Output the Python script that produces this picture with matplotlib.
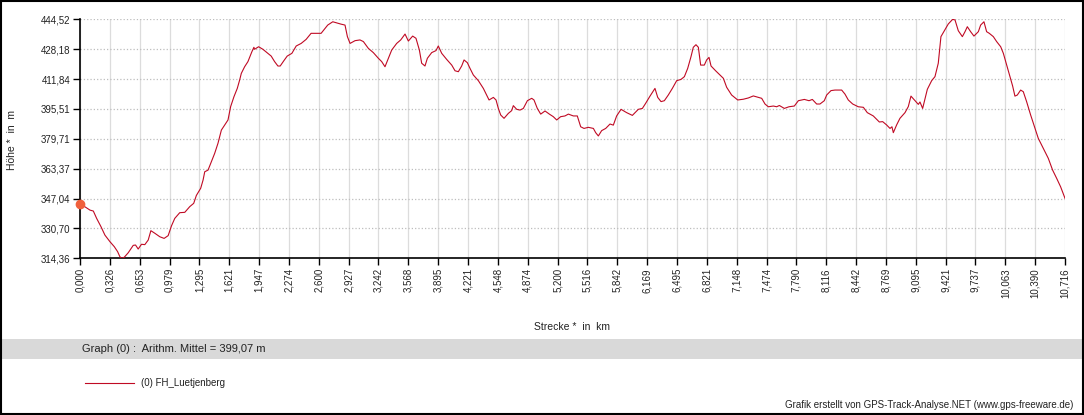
import numpy as np
import matplotlib
matplotlib.use("Agg")
from matplotlib import pyplot as plt
from matplotlib.patches import Rectangle
from matplotlib.lines import Line2D

plt.rcParams['font.family'] = ['Liberation Sans', 'DejaVu Sans']

dist_km = [
    0.000, 0.054, 0.109, 0.145, 0.181, 0.228, 0.271, 0.326, 0.373, 0.409,
    0.434, 0.452, 0.481, 0.525, 0.579, 0.604, 0.633, 0.669, 0.705, 0.742,
    0.771, 0.814, 0.868, 0.915, 0.959, 0.995, 1.031, 1.085, 1.140, 1.194,
    1.237, 1.266, 1.313, 1.339, 1.357, 1.393, 1.429, 1.465, 1.501, 1.538,
    1.574, 1.610, 1.639, 1.675, 1.711, 1.737, 1.755, 1.791, 1.827, 1.870,
    1.892, 1.899, 1.943, 1.990, 2.044, 2.080, 2.117, 2.153, 2.178, 2.218,
    2.254, 2.305, 2.352, 2.406, 2.460, 2.514, 2.623, 2.695, 2.750, 2.790,
    2.840, 2.883, 2.909, 2.938, 2.992, 3.046, 3.083, 3.137, 3.191, 3.246,
    3.282, 3.318, 3.355, 3.391, 3.445, 3.489, 3.536, 3.572, 3.619, 3.655,
    3.692, 3.717, 3.753, 3.779, 3.826, 3.873, 3.898, 3.935, 3.989, 4.044,
    4.080, 4.116, 4.152, 4.178, 4.214, 4.243, 4.279, 4.334, 4.388, 4.424,
    4.450, 4.497, 4.526, 4.551, 4.577, 4.613, 4.660, 4.696, 4.714, 4.751,
    4.787, 4.823, 4.867, 4.914, 4.939, 4.975, 5.012, 5.059, 5.106, 5.149,
    5.186, 5.229, 5.276, 5.313, 5.367, 5.410, 5.447, 5.483, 5.530, 5.585,
    5.610, 5.639, 5.675, 5.719, 5.766, 5.802, 5.838, 5.886, 5.947, 6.009,
    6.038, 6.074, 6.118, 6.154, 6.201, 6.255, 6.285, 6.321, 6.357, 6.400,
    6.444, 6.491, 6.538, 6.575, 6.611, 6.647, 6.672, 6.701, 6.727, 6.752,
    6.792, 6.817, 6.843, 6.865, 6.915, 6.962, 6.999, 7.035, 7.089, 7.155,
    7.216, 7.271, 7.325, 7.380, 7.416, 7.452, 7.488, 7.543, 7.579, 7.608,
    7.662, 7.713, 7.771, 7.815, 7.880, 7.931, 7.967, 8.014, 8.050, 8.097,
    8.123, 8.170, 8.213, 8.286, 8.322, 8.358, 8.406, 8.467, 8.522, 8.565,
    8.630, 8.696, 8.732, 8.775, 8.812, 8.833, 8.848, 8.884, 8.920, 8.975,
    9.011, 9.040, 9.084, 9.120, 9.138, 9.167, 9.218, 9.265, 9.301, 9.337,
    9.366, 9.403, 9.446, 9.493, 9.519, 9.555, 9.599, 9.628, 9.653, 9.689,
    9.725, 9.773, 9.798, 9.834, 9.863, 9.892, 9.936, 9.972, 10.016, 10.045,
    10.081, 10.117, 10.146, 10.171, 10.197, 10.233, 10.262, 10.298, 10.342, 10.389,
    10.425, 10.480, 10.534, 10.581, 10.625, 10.668, 10.697, 10.716,
]
elev_m = [
    344.0, 342.4, 340.6, 340.1, 336.1, 331.6, 327.0, 323.4, 320.7, 318.0,
    315.2, 314.4, 314.9, 317.4, 321.4, 321.6, 319.4, 322.0, 321.8, 324.3,
    329.4, 328.0, 326.1, 325.2, 326.7, 332.0, 336.1, 339.2, 339.4, 342.5,
    344.3, 348.6, 352.5, 357.0, 361.5, 362.4, 367.0, 371.5, 377.0, 384.2,
    386.9, 389.7, 397.0, 402.4, 406.9, 411.5, 415.1, 418.7, 421.5, 426.9,
    429.3, 428.2, 429.6, 428.2, 426.0, 424.5, 421.5, 419.1, 419.1, 422.0,
    424.5, 426.0, 430.0, 431.4, 433.6, 436.9, 436.9, 441.4, 443.2, 442.6,
    441.9, 441.4, 435.1, 431.4, 432.9, 433.3, 432.4, 428.7, 426.4, 423.3,
    421.5, 418.7, 423.3, 427.8, 431.4, 433.3, 436.5, 432.7, 435.4, 434.2,
    427.8, 420.6, 419.1, 423.3, 426.4, 427.5, 430.0, 426.0, 422.7, 419.6,
    416.5, 416.0, 419.1, 422.4, 420.9, 417.8, 414.2, 411.1, 406.9, 403.3,
    400.6, 402.0, 400.6, 396.0, 392.4, 390.6, 393.3, 394.8, 397.5, 395.5,
    395.1, 396.0, 400.2, 401.5, 400.6, 396.0, 392.9, 394.6, 392.9, 391.5,
    389.7, 391.5, 391.9, 392.9, 391.9, 391.9, 386.0, 385.1, 385.7, 385.1,
    382.8, 381.0, 383.9, 385.1, 387.5, 386.9, 391.9, 395.5, 393.7, 392.2,
    393.7, 395.5, 396.0, 398.8, 402.7, 406.9, 402.0, 399.7, 400.2, 403.3,
    406.9, 411.1, 411.8, 413.3, 417.8, 424.2, 429.3, 430.7, 429.3, 419.6,
    419.6, 422.4, 423.8, 419.1, 416.5, 414.2, 412.4, 407.5, 403.3, 400.6,
    401.0, 401.7, 402.8, 402.0, 401.5, 398.4, 396.9, 397.3, 396.9, 397.6,
    396.0, 396.9, 397.3, 400.2, 400.9, 400.2, 400.9, 398.4, 398.4, 400.2,
    403.3, 405.7, 406.0, 406.0, 403.8, 400.6, 398.4, 396.9, 396.6, 393.7,
    391.9, 388.6, 388.8, 387.0, 385.1, 386.0, 382.8, 387.0, 390.6, 393.7,
    397.0, 402.7, 400.2, 398.2, 399.5, 396.0, 406.4, 411.1, 413.3, 420.6,
    435.1, 438.3, 442.0, 444.5, 444.2, 438.3, 435.1, 437.8, 440.5, 437.8,
    435.4, 437.8, 441.4, 443.2, 437.8, 436.9, 435.1, 432.4, 429.6, 426.0,
    419.6, 413.3, 408.2, 402.7, 403.3, 406.0, 405.1, 399.7, 392.4, 385.1,
    379.7, 374.2, 368.8, 362.4, 357.9, 353.3, 349.4, 347.0,
]

x_tick_labels = [
    "0,000", "0,326", "0,653", "0,979", "1,295", "1,621", "1,947", "2,274",
    "2,600", "2,927", "3,242", "3,568", "3,895", "4,221", "4,548", "4,874",
    "5,200", "5,516", "5,842", "6,169", "6,495", "6,821", "7,148", "7,474",
    "7,790", "8,116", "8,442", "8,769", "9,095", "9,421", "9,737", "10,063",
    "10,390", "10,716",
]
y_tick_labels = ["314,36", "330,70", "347,04", "363,37", "379,71",
                 "395,51", "411,84", "428,18", "444,52"]

track_name = "(0) FH_Luetjenberg"
mean_text = "Graph (0) :  Arithm. Mittel = 399,07 m"

x_min, x_max = 0.0, 10.716
y_min, y_max = 314.36, 444.52
line_color = '#c00a24'
text_color = '#222222'

fig = plt.figure(figsize=(10.84, 4.15), dpi=100)
ax = fig.add_axes([0.0738, 0.3776, 0.9087, 0.5758])

ax.plot(dist_km, elev_m, color=line_color, lw=0.8, zorder=3)
# Startpunkt
ax.plot(dist_km[0], elev_m[0], 'o', color='#f0603c', ms=6, clip_on=False, zorder=4)

ax.set_xlim(x_min, x_max)
ax.set_ylim(y_min, y_max)
ax.set_xticks(np.linspace(x_min, x_max, len(x_tick_labels)))
ax.set_xticklabels(x_tick_labels, rotation=90, fontsize=7, color=text_color)
ax.set_yticks(np.linspace(y_min, y_max, len(y_tick_labels)))
ax.set_yticklabels(y_tick_labels, fontsize=7, color=text_color)
ax.tick_params(direction='out', length=5, width=1, color='black', pad=2)

ax.grid(axis='y', color='#bdbdbd', linestyle=':', lw=0.9)
ax.grid(axis='x', color='#dcdcdc', linestyle='-', lw=0.9)
ax.set_axisbelow(True)
for side in ['top', 'right']:
    ax.spines[side].set_visible(False)
for side in ['left', 'bottom']:
    ax.spines[side].set_linewidth(1.2)

fig.text(0.0111, 0.6627, "Höhe *  in  m", rotation=90, ha='center', va='center',
         fontsize=7.5, color=text_color)
fig.text(0.5277, 0.212, "Strecke *  in  km", ha='center', va='center',
         fontsize=7.5, color=text_color)

# grauer Balken mit Mittelwert
fig.patches.append(Rectangle((0.0, 0.135), 1.0, 0.048, transform=fig.transFigure,
                             facecolor='#d9d9d9', edgecolor='none', zorder=0))
fig.text(0.0756, 0.159, mean_text, ha='left', va='center', fontsize=8, color=text_color)

# Legende
fig.lines.append(Line2D([0.0784, 0.1236], [0.0771, 0.0771], transform=fig.transFigure,
                        color=line_color, lw=0.8))
fig.text(0.130, 0.0771, track_name, ha='left', va='center', fontsize=7, color=text_color)

fig.text(0.9899, 0.0241, "Grafik erstellt von GPS-Track-Analyse.NET (www.gps-freeware.de)",
         ha='right', va='center', fontsize=7, color=text_color)

# Rahmen
fig.patches.append(Rectangle((0.001, 0.002), 0.998, 0.996, transform=fig.transFigure,
                             facecolor='none', edgecolor='black', lw=1.5, zorder=5))

plt.savefig('out.png', dpi=100)
